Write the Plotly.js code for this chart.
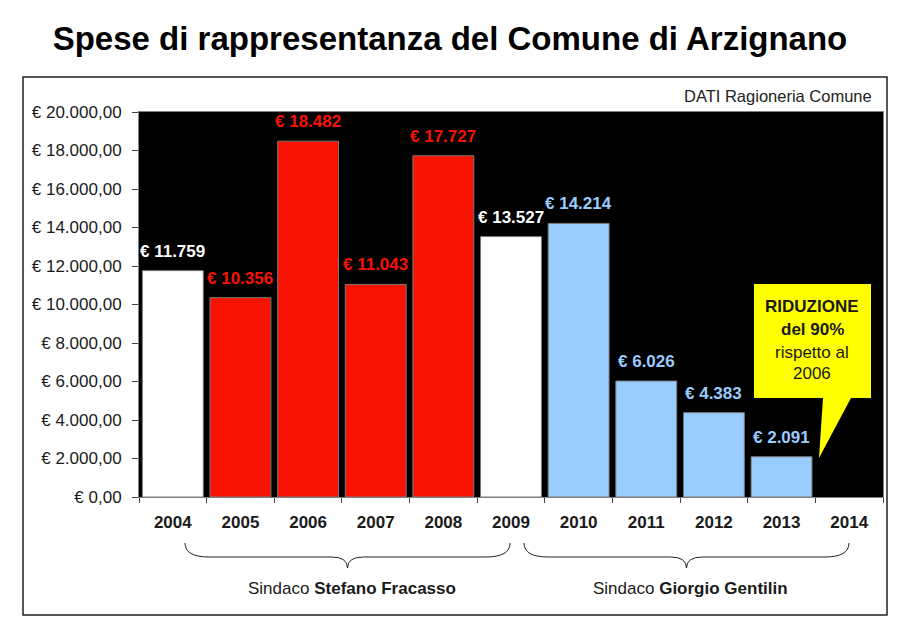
<!DOCTYPE html>
<html>
<head>
<meta charset="utf-8">
<script src="https://cdn.plot.ly/plotly-3.0.1.min.js"></script>
<style>html,body{margin:0;padding:0;background:#fff;}#chart{width:900px;height:622px;}</style>
</head>
<body>
<div id="chart"></div>
<script>
// ---- data ----
var years = ['2004','2005','2006','2007','2008','2009','2010','2011','2012','2013','2014'];
var spese = [11759, 10356, 18482, 11043, 17727, 13527, 14214, 6026, 4383, 2091, null];
var barColors = ['#FFFFFF','#F81200','#F81200','#F81200','#F81200','#FFFFFF','#99CCFF','#99CCFF','#99CCFF','#99CCFF','#99CCFF'];
var yTickVals = [0,2000,4000,6000,8000,10000,12000,14000,16000,18000,20000];
var yTickText = ['€ 0,00','€ 2.000,00','€ 4.000,00','€ 6.000,00','€ 8.000,00','€ 10.000,00','€ 12.000,00','€ 14.000,00','€ 16.000,00','€ 18.000,00','€ 20.000,00'];
var sindaci = ['Stefano Fracasso','Giorgio Gentilin'];
var calloutLines = ['<b>RIDUZIONE</b>','<b>del 90%</b>','rispetto al','2006'];

// ---- helpers: pixel -> paper ----
var L=139, R=883, T=112, B=497;
function px(x){return (x-L)/(R-L);}
function py(y){return (B-y)/(B-T);}
function P(x,y){return px(x).toFixed(5)+','+py(y).toFixed(5);}
function fmt(v){return '€ ' + String(v).replace(/\B(?=(\d{3})+(?!\d))/g,'.');}

var FONT = 'Liberation Sans, Arial, sans-serif';

var trace = {
  type:'bar', x:years, y:spese,
  marker:{color:barColors, line:{color:'#7a7a7a', width:1}},
  hoverinfo:'skip'
};

var annotations = [];
years.forEach(function(yr,i){
  if (spese[i] === null) return;
  annotations.push({
    x:i, y:spese[i], xref:'x', yref:'y', yanchor:'bottom', xanchor:'center',
    yshift:8, showarrow:false, text:'<b>'+fmt(spese[i])+'</b>',
    font:{family:FONT, size:17, color:barColors[i]}
  });
});
// source
annotations.push({xref:'paper', yref:'paper', x:px(874), y:py(96), xanchor:'right', yanchor:'middle',
  showarrow:false, text:'DATI Ragioneria Comune', font:{family:FONT, size:16.5, color:'#222'}});
// callout text
var cy = [306, 329, 352, 373];
calloutLines.forEach(function(t,i){
  annotations.push({xref:'paper', yref:'paper', x:px(812), y:py(cy[i]), xanchor:'center', yanchor:'middle',
    showarrow:false, text:t, font:{family:FONT, size:17, color:'#1a1a1a'}});
});
// mayors
var braceSpans = [[185,510],[524,849]];
sindaci.forEach(function(n,i){
  var m = (braceSpans[i][0]+braceSpans[i][1])/2;
  annotations.push({xref:'paper', yref:'paper', x:px(m+4), y:py(588), xanchor:'center', yanchor:'middle',
    showarrow:false, text:'Sindaco <b>'+n+'</b>', font:{family:FONT, size:17, color:'#1a1a1a'}});
});

function brace(x1,x2){
  var xm=(x1+x2)/2, y0=543, y1=557, y2=568;
  return 'M'+P(x1,y0)+' Q'+P(x1,y1)+' '+P(x1+24,y1)+' L'+P(xm-16,y1)+
         ' Q'+P(xm,y1)+' '+P(xm,y2)+' Q'+P(xm,y1)+' '+P(xm+16,y1)+
         ' L'+P(x2-24,y1)+' Q'+P(x2,y1)+' '+P(x2,y0);
}

var shapes = [
  // outer frame
  {type:'rect', xref:'paper', yref:'paper', x0:px(23), x1:px(887), y0:py(615), y1:py(77),
   line:{color:'#222', width:1.5}, fillcolor:'rgba(0,0,0,0)', layer:'below'},
  // callout
  {type:'path', xref:'paper', yref:'paper',
   path:'M'+P(754,284)+' L'+P(871,284)+' L'+P(871,398)+' L'+P(851,398)+' L'+P(819,458)+' L'+P(823,398)+' L'+P(754,398)+' Z',
   fillcolor:'#FFFF00', line:{width:0}},
  {type:'path', xref:'paper', yref:'paper', path:brace(braceSpans[0][0],braceSpans[0][1]), line:{color:'#222', width:1}},
  {type:'path', xref:'paper', yref:'paper', path:brace(braceSpans[1][0],braceSpans[1][1]), line:{color:'#222', width:1}}
];

var layout = {
  width:900, height:622,
  margin:{l:L, r:900-R, t:T, b:622-B, pad:0},
  paper_bgcolor:'#FFFFFF', plot_bgcolor:'#000000',
  bargap:0.1,
  showlegend:false,
  title:{text:'<b>Spese di rappresentanza del Comune di Arzignano</b>',
    font:{family:FONT, size:33, color:'#000'},
    x:0.5, xanchor:'center', xref:'container', y:1-38/622, yref:'container', yanchor:'middle'},
  xaxis:{type:'category', range:[-0.5,10.5], autorange:false, tickson:'boundaries', ticks:'outside', ticklen:5, tickcolor:'#444',
    showline:true, linecolor:'#808080', linewidth:1, mirror:true, showgrid:false, zeroline:false, tickangle:0,
    tickfont:{family:FONT, size:17, color:'#1a1a1a', weight:'bold'}, ticklabelstandoff:10, fixedrange:true},
  yaxis:{range:[0,20000], autorange:false, tickmode:'array', tickvals:yTickVals, ticktext:yTickText,
    ticks:'outside', ticklen:6, tickcolor:'#444', showline:true, linecolor:'#808080', linewidth:1, mirror:true,
    showgrid:false, zeroline:false, tickfont:{family:FONT, size:17, color:'#1a1a1a'}, ticklabelstandoff:7, fixedrange:true},
  annotations:annotations,
  shapes:shapes
};

Plotly.newPlot('chart',[trace],layout,{displayModeBar:false, staticPlot:true});
</script>
</body>
</html>
